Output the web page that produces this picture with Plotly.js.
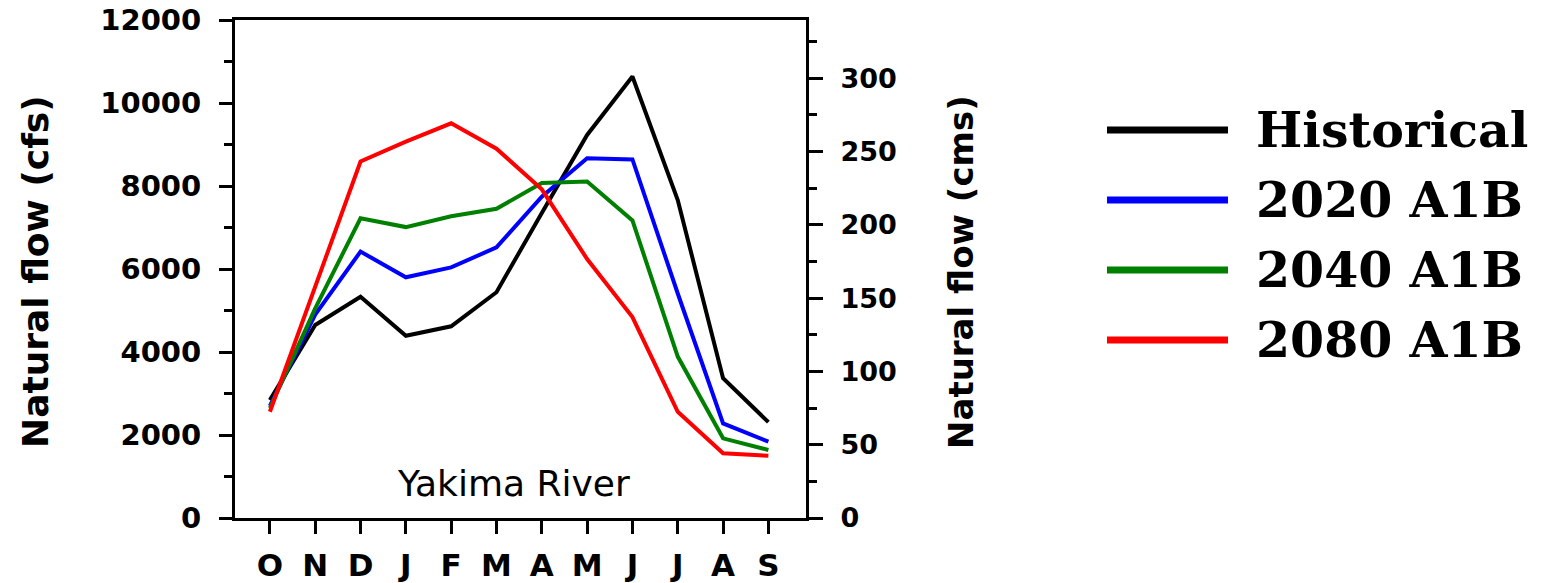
<!DOCTYPE html>
<html>
<head>
<meta charset="utf-8">
<script src="https://cdn.plot.ly/plotly-3.0.1.min.js"></script>
<style>
  html, body { margin: 0; padding: 0; background: #fff; }
  #chart { width: 1551px; height: 583px; }
</style>
</head>
<body>
<div id="chart"></div>
<script>
// Monthly natural flow, water year Oct–Sep (cfs)
const months = ['O', 'N', 'D', 'J', 'F', 'M', 'A', 'M', 'J', 'J', 'A', 'S'];
const historical = [2840, 4650, 5330, 4390, 4620, 5440, 7350, 9230, 10640, 7660, 3370, 2310];
const a1b2020 = [2700, 4900, 6420, 5800, 6040, 6520, 7740, 8670, 8640, 5410, 2280, 1840];
const a1b2040 = [2650, 5050, 7220, 7010, 7270, 7450, 8070, 8110, 7170, 3890, 1920, 1640];
const a1b2080 = [2560, 5550, 8590, 9070, 9510, 8900, 7920, 6240, 4840, 2560, 1560, 1500];

const seriesNames = ['Historical', '2020 A1B', '2040 A1B', '2080 A1B'];
const seriesValues = [historical, a1b2020, a1b2040, a1b2080];
const seriesColors = ['#000000', '#0000ff', '#008000', '#ff0000'];

const CFS_PER_CMS = 35.3147;
const yMaxCfs = 12000;

const monthIndex = months.map((_, i) => i);

const traces = seriesValues.map((vals, k) => ({
  type: 'scatter',
  mode: 'lines',
  name: seriesNames[k],
  x: monthIndex,
  y: vals,
  line: { color: seriesColors[k], width: 4 },
  showlegend: false,
  hoverinfo: 'x+y+name'
}));

// invisible trace to carry the secondary (cms) axis
traces.push({
  type: 'scatter', mode: 'lines', x: [0], y: [0], yaxis: 'y2',
  line: { width: 0 }, showlegend: false, hoverinfo: 'skip'
});

// plot box in pixels
const W = 1551, H = 583;
const plotL = 235, plotR = 806, plotT = 20, plotB = 518;
const px2x = px => (px - plotL) / (plotR - plotL);
const py2y = py => (plotB - py) / (plotB - plotT);

const axisFont = { family: 'DejaVu Sans', size: 29, color: '#000', weight: 'bold' };

// hand-built legend with long line samples
const legendRows = [130, 200, 270, 340];
const shapes = seriesNames.map((n, k) => ({
  type: 'line', xref: 'paper', yref: 'paper',
  x0: px2x(1107), x1: px2x(1228),
  y0: py2y(legendRows[k]), y1: py2y(legendRows[k]),
  line: { color: seriesColors[k], width: 7 }
}));

const annotations = seriesNames.map((n, k) => ({
  xref: 'paper', yref: 'paper',
  x: px2x(1254), y: py2y(legendRows[k]),
  xanchor: 'left', yanchor: 'middle',
  text: n, showarrow: false,
  font: { family: 'DejaVu Serif', size: 49, color: '#000', weight: 'bold' }
}));

annotations.push(
  {
    xref: 'paper', yref: 'paper', x: px2x(35), y: py2y(272),
    xanchor: 'center', yanchor: 'middle', textangle: -90,
    text: 'Natural flow (cfs)', showarrow: false,
    font: { family: 'DejaVu Sans', size: 36, color: '#000', weight: 'bold' }
  },
  {
    xref: 'paper', yref: 'paper', x: px2x(961), y: py2y(272),
    xanchor: 'center', yanchor: 'middle', textangle: -90,
    text: 'Natural flow (cms)', showarrow: false,
    font: { family: 'DejaVu Sans', size: 34, color: '#000', weight: 'bold' }
  },
  {
    xref: 'paper', yref: 'paper', x: px2x(513), y: py2y(483),
    xanchor: 'center', yanchor: 'middle',
    text: 'Yakima River', showarrow: false,
    font: { family: 'DejaVu Sans', size: 36, color: '#000' }
  }
);

const layout = {
  width: W, height: H,
  margin: { l: plotL, r: W - plotR, t: plotT, b: H - plotB, pad: 0 },
  paper_bgcolor: '#fff', plot_bgcolor: '#fff',
  showlegend: false,
  xaxis: {
    range: [-0.77, 11.83],
    tickmode: 'array', tickvals: monthIndex, ticktext: months,
    ticks: 'outside', ticklen: 13, tickwidth: 3, tickcolor: '#000',
    ticklabelstandoff: 5,
    showline: true, linewidth: 3, linecolor: '#000', mirror: true,
    showgrid: false, zeroline: false, fixedrange: true,
    tickfont: { family: 'DejaVu Sans', size: 31, color: '#000', weight: 'bold' }
  },
  yaxis: {
    range: [0, yMaxCfs],
    dtick: 2000, tick0: 0, tickformat: 'd',
    ticks: 'outside', ticklen: 13, tickwidth: 3, tickcolor: '#000',
    minor: { dtick: 1000, ticks: 'outside', ticklen: 8, tickwidth: 3, tickcolor: '#000', showgrid: false },
    ticklabelstandoff: 12,
    showline: true, linewidth: 3, linecolor: '#000',
    showgrid: false, zeroline: false, fixedrange: true,
    tickfont: axisFont
  },
  yaxis2: {
    overlaying: 'y', side: 'right',
    range: [0, yMaxCfs / CFS_PER_CMS],
    dtick: 50, tick0: 0, tickformat: 'd',
    ticks: 'outside', ticklen: 14, tickwidth: 3, tickcolor: '#000',
    minor: { dtick: 25, ticks: 'outside', ticklen: 8, tickwidth: 3, tickcolor: '#000', showgrid: false },
    ticklabelstandoff: 12,
    showline: true, linewidth: 3, linecolor: '#000',
    showgrid: false, zeroline: false, fixedrange: true,
    tickfont: { family: 'DejaVu Sans', size: 27, color: '#000', weight: 'bold' }
  },
  shapes: shapes,
  annotations: annotations
};

Plotly.newPlot('chart', traces, layout, { displayModeBar: false, staticPlot: true });
</script>
</body>
</html>
